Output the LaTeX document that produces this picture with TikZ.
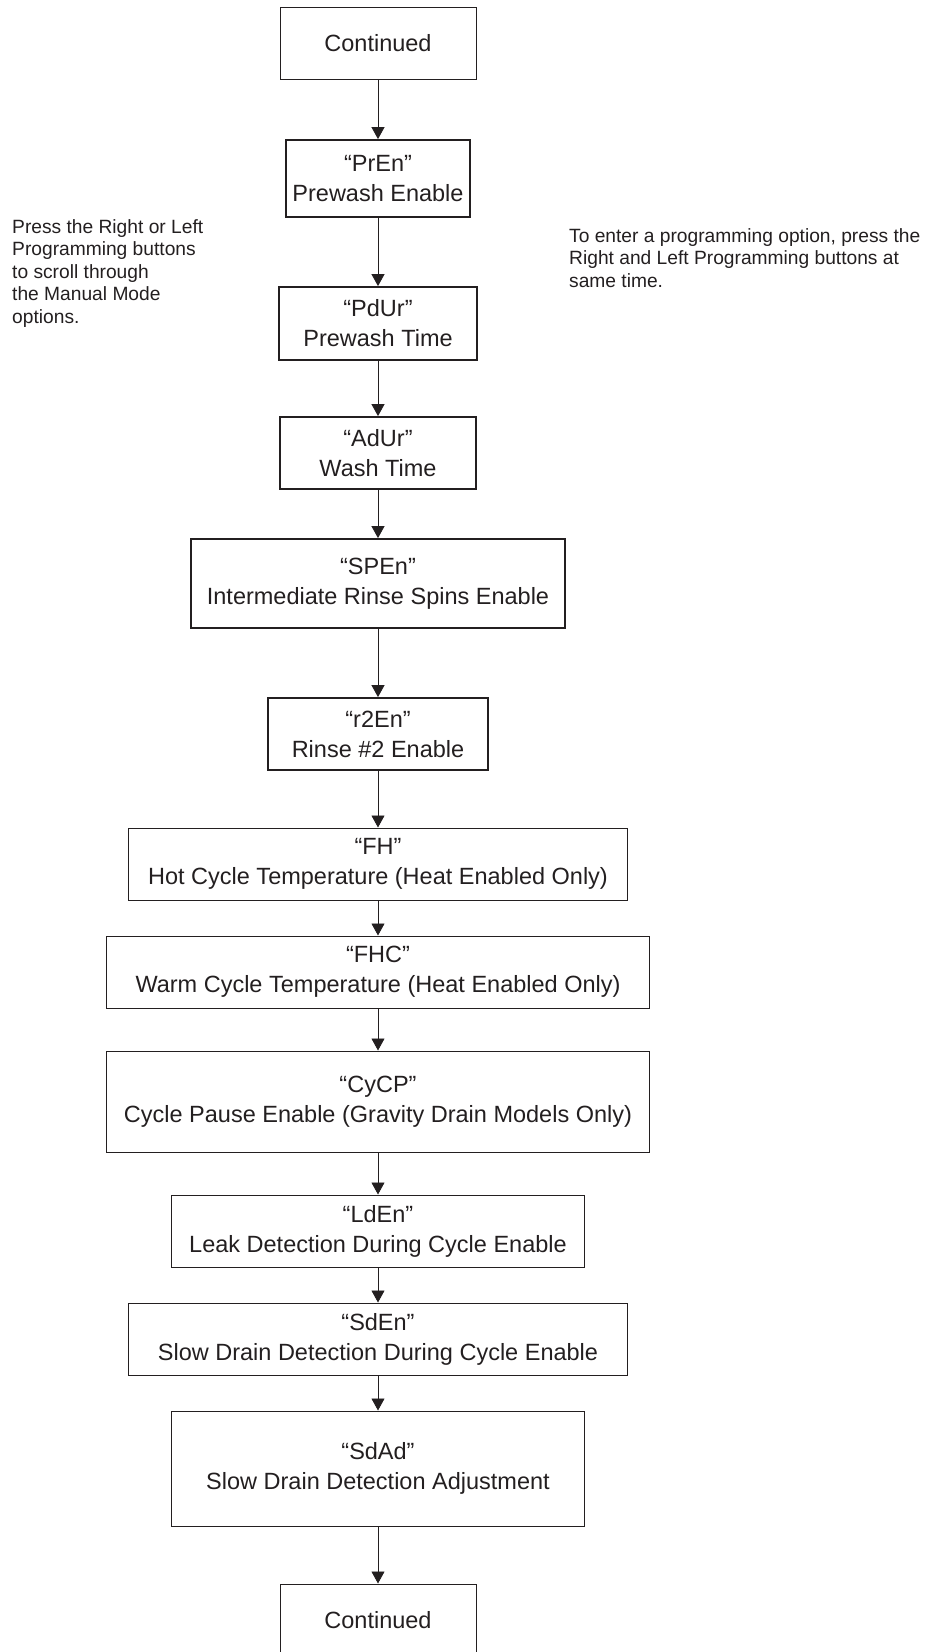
\documentclass[tikz,border=0pt]{standalone}
\usepackage{fontspec}
\setmainfont{Liberation Sans}
\usepackage{xcolor}
\usetikzlibrary{arrows.meta}
\definecolor{ink}{HTML}{231F20}
\tikzstyle{box} = [draw=ink, text=ink, line width=1pt, inner sep=0pt,
    align=center, font=\fontsize{23.5}{30}\selectfont]
\tikzstyle{boldbox} = [box, line width=1.8pt]
\tikzstyle{note} = [text=ink, inner sep=0pt, align=left, anchor=north west,
    font=\fontsize{19.2}{22.6}\selectfont]
\tikzstyle{flow} = [draw=ink, line width=0.9pt,
    -{Triangle[length=12pt,width=13pt]}]

\begin{document}
\begin{tikzpicture}[x=1pt,y=-1pt]
  \useasboundingbox (0,0) rectangle (924,1652);
  \def\cx{378}

  \draw (\cx,43) node[box, minimum width=196pt, minimum height=72pt] (cont1) {Continued};
  \draw (\cx,178.5) node[boldbox, minimum width=184pt, minimum height=77pt] (pren) {“PrEn”\\Prewash Enable};
  \draw (\cx,323.5) node[boldbox, minimum width=198pt, minimum height=73pt] (pdur) {“PdUr”\\Prewash Time};
  \draw (\cx,453) node[boldbox, minimum width=196pt, minimum height=72pt] (adur) {“AdUr”\\Wash Time};
  \draw (\cx,583.5) node[boldbox, minimum width=374pt, minimum height=89pt] (spen) {“SPEn”\\Intermediate Rinse Spins Enable};
  \draw (\cx,734) node[boldbox, minimum width=220pt, minimum height=72pt] (r2en) {“r2En”\\Rinse \#2 Enable};
  \draw (\cx,864) node[box, minimum width=499pt, minimum height=72pt] (fh) {“FH”\\Hot Cycle Temperature (Heat Enabled Only)};
  \draw (\cx,972) node[box, minimum width=543pt, minimum height=72pt] (fhc) {“FHC”\\Warm Cycle Temperature (Heat Enabled Only)};
  \draw (\cx,1101.5) node[box, minimum width=543pt, minimum height=101pt] (cycp) {“CyCP”\\Cycle Pause Enable (Gravity Drain Models Only)};
  \draw (\cx,1231) node[box, minimum width=413pt, minimum height=72pt] (lden) {“LdEn”\\Leak Detection During Cycle Enable};
  \draw (\cx,1339) node[box, minimum width=499pt, minimum height=72pt] (sden) {“SdEn”\\Slow Drain Detection During Cycle Enable};
  \draw (\cx,1468.5) node[box, minimum width=413pt, minimum height=115pt] (sdad) {“SdAd”\\Slow Drain Detection Adjustment};
  \draw (\cx,1620) node[box, minimum width=196pt, minimum height=72pt] (cont2) {Continued};

  % side notes
  \draw (12,219) node[note] (scroll) {Press the Right or Left\\Programming buttons\\to scroll through\\the Manual Mode\\options.};
  \draw (569,228) node[note] (enter) {To enter a programming option, press the\\Right and Left Programming buttons at\\same time.};

  \draw[flow] (cont1)--(pren);
  \draw[flow] (pren)--(pdur);
  \draw[flow] (pdur)--(adur);
  \draw[flow] (adur)--(spen);
  \draw[flow] (spen)--(r2en);
  \draw[flow] (r2en)--(fh);
  \draw[flow] (fh)--(fhc);
  \draw[flow] (fhc)--(cycp);
  \draw[flow] (cycp)--(lden);
  \draw[flow] (lden)--(sden);
  \draw[flow] (sden)--(sdad);
  \draw[flow] (sdad)--(cont2);
\end{tikzpicture}
\end{document}
